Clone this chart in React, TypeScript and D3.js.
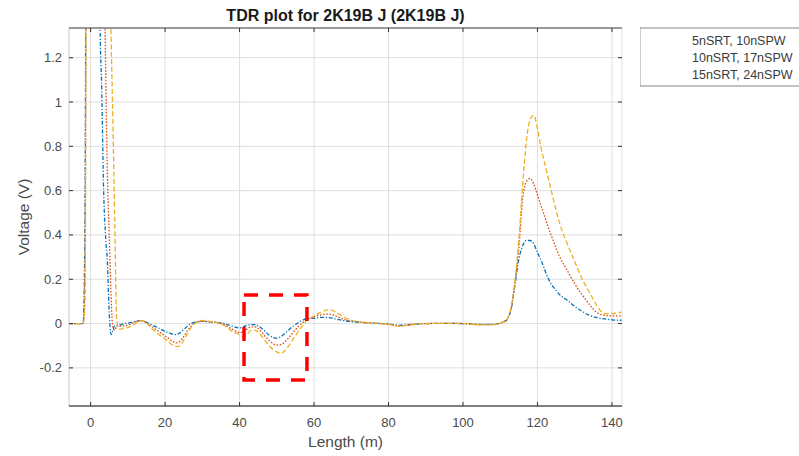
import React from "react";
import * as d3 from "d3";

const lengths = [-6, -2, -1.5, -1, -0.5, 0, 1, 2, 2.5, 3, 3.5, 4, 4.5, 5, 5.5, 6, 6.5, 7, 7.5, 8, 9, 10, 11, 12, 13, 14, 15, 16, 17, 18, 19, 20, 21, 22, 23, 24, 25, 26, 27, 28, 30, 32, 34, 36, 38, 40, 41, 42, 43, 44, 45, 46, 47, 48, 49, 50, 51, 52, 53, 54, 55, 56, 57, 58, 60, 62, 64, 66, 68, 70, 72, 75, 78, 80, 83, 86, 90, 95, 100, 105, 108, 110, 111, 112, 113, 114, 115, 116, 117, 118, 119, 120, 121, 122, 123, 124, 125, 126, 128, 130, 132, 134, 136, 138, 140, 142, 143];

const seriesBlue = [0, 0, 0.5, 3, 3, 3, 3, 3, 1.4, 1.05, 0.6, 0.4, 0.28, 0.05, -0.05, -0.03, -0.01, -0.01, -0.005, -0.005, 0, 0.002, 0.005, 0.01, 0.013, 0.012, 0.005, -0.003, -0.01, -0.018, -0.027, -0.035, -0.042, -0.048, -0.05, -0.042, -0.027, -0.012, 0, 0.007, 0.01, 0.008, 0.005, 0, -0.012, -0.02, -0.015, -0.008, -0.005, -0.005, -0.01, -0.022, -0.038, -0.053, -0.063, -0.066, -0.06, -0.047, -0.032, -0.017, -0.005, 0.007, 0.016, 0.022, 0.024, 0.028, 0.027, 0.02, 0.013, 0.009, 0.006, 0.003, 0, -0.002, -0.008, -0.004, 0, 0.001, 0, -0.004, -0.004, 0.002, 0.008, 0.022, 0.07, 0.18, 0.29, 0.35, 0.375, 0.375, 0.36, 0.32, 0.285, 0.24, 0.2, 0.17, 0.15, 0.13, 0.105, 0.078, 0.055, 0.037, 0.027, 0.021, 0.017, 0.015, 0.015];

const seriesOrange = [0, 0, 0.3, 3, 3, 3, 3, 3, 3, 2.4, 1.8, 1.2, 0.68, 0.4, 0.12, -0.02, -0.03, -0.01, -0.01, -0.012, -0.01, -0.008, 0, 0.008, 0.013, 0.012, 0.003, -0.01, -0.02, -0.032, -0.044, -0.056, -0.068, -0.08, -0.087, -0.08, -0.058, -0.032, -0.012, 0.004, 0.01, 0.008, 0.004, -0.005, -0.025, -0.04, -0.04, -0.025, -0.015, -0.015, -0.022, -0.04, -0.06, -0.077, -0.09, -0.097, -0.095, -0.085, -0.068, -0.048, -0.028, -0.01, 0.005, 0.018, 0.03, 0.04, 0.043, 0.033, 0.02, 0.012, 0.007, 0.003, 0, -0.003, -0.01, -0.005, 0, 0.001, 0, -0.005, -0.005, 0.003, 0.009, 0.024, 0.075, 0.19, 0.34, 0.56, 0.64, 0.655, 0.63, 0.58, 0.53, 0.48, 0.43, 0.385, 0.34, 0.3, 0.24, 0.18, 0.13, 0.085, 0.05, 0.037, 0.035, 0.035, 0.036];

const seriesYellow = [0, 0, 0.1, 2.5, 3, 3, 3, 3, 3, 3, 3, 2.6, 2.2, 1.8, 1.3, 0.9, 0.45, 0.02, -0.02, -0.025, -0.02, -0.018, -0.01, 0, 0.012, 0.013, 0.003, -0.015, -0.03, -0.045, -0.058, -0.07, -0.083, -0.096, -0.104, -0.1, -0.075, -0.045, -0.018, 0, 0.014, 0.01, 0.004, -0.01, -0.035, -0.05, -0.058, -0.048, -0.032, -0.03, -0.038, -0.058, -0.08, -0.1, -0.117, -0.128, -0.134, -0.125, -0.105, -0.08, -0.055, -0.03, -0.008, 0.012, 0.035, 0.052, 0.063, 0.05, 0.03, 0.015, 0.008, 0.003, 0, -0.004, -0.012, -0.006, 0, 0.001, 0, -0.006, -0.005, 0.003, 0.01, 0.025, 0.08, 0.2, 0.38, 0.62, 0.82, 0.92, 0.94, 0.88, 0.79, 0.72, 0.65, 0.58, 0.51, 0.45, 0.36, 0.28, 0.2, 0.14, 0.08, 0.045, 0.045, 0.05, 0.052];

const seriesNames = ["5nSRT, 10nSPW", "10nSRT, 17nSPW", "15nSRT, 24nSPW"];
const seriesColors = ["#0072BD", "#D95319", "#EDB120"];
const seriesDash = ["4,1.8,1.2,1.8", "1.6,1.6", "5,2.5"];

const xTicks = [0, 20, 40, 60, 80, 100, 120, 140];
const yTicks = [-0.2, 0, 0.2, 0.4, 0.6, 0.8, 1, 1.2];
const xDomain = [-5.8, 142.7];
const yDomain = [-0.372, 1.334];

// annotation box in data units: [x0, x1, y0, y1]
const highlightBox = [41.2, 58.1, 0.129, -0.255];

const titleText = "TDR plot for 2K19B J (2K19B J)";
const xLabel = "Length (m)";
const yLabel = "Voltage (V)";

export default function App() {
  const W = 799, H = 456;
  const L = 69, R = 622, T = 28, B = 406;
  const x = d3.scaleLinear().domain(xDomain).range([L, R]);
  const y = d3.scaleLinear().domain(yDomain).range([B, T]);
  const allSeries = [seriesBlue, seriesOrange, seriesYellow];
  const line = d3
    .line<number>()
    .x((_, i) => x(lengths[i]))
    .y((v) => y(v))
    .curve(d3.curveMonotoneX);
  const font = "'Liberation Sans', Arial, Helvetica, sans-serif";
  const tickColor = "#4a4a4a";

  return (
    <svg
      width={W}
      height={H}
      style={{ position: "absolute", left: 0, top: 0, background: "#fff" }}
      fontFamily={font}
    >
      <defs>
        <clipPath id="plotClip">
          <rect x={L} y={T} width={R - L} height={B - T} />
        </clipPath>
      </defs>
      <rect x={0} y={0} width={W} height={H} fill="#fff" />
      {/* grid */}
      {xTicks.map((t) => (
        <line key={"gx" + t} x1={x(t)} x2={x(t)} y1={T} y2={B} stroke="#dedede" strokeWidth={1} />
      ))}
      {yTicks.map((t) => (
        <line key={"gy" + t} x1={L} x2={R} y1={y(t)} y2={y(t)} stroke="#dedede" strokeWidth={1} />
      ))}
      {/* series */}
      <g clipPath="url(#plotClip)">
        {allSeries.map((s, i) => (
          <path
            key={"s" + i}
            d={line(s) || ""}
            fill="none"
            stroke={seriesColors[i]}
            strokeWidth={1.3}
            strokeDasharray={seriesDash[i]}
          />
        ))}
      </g>
      {/* axes frame */}
      <line x1={L} x2={L} y1={T} y2={B} stroke="#c8c8c8" strokeWidth={1} />
      <line x1={R} x2={R} y1={T} y2={B} stroke="#e0e0e0" strokeWidth={1} />
      <line x1={L} x2={R} y1={T} y2={T} stroke="#777" strokeWidth={1.4} />
      <line x1={L} x2={R} y1={B} y2={B} stroke="#555" strokeWidth={1.4} />
      {/* ticks */}
      {xTicks.map((t) => (
        <g key={"tx" + t}>
          <line x1={x(t)} x2={x(t)} y1={B} y2={B - 4} stroke="#333" strokeWidth={1} />
          <line x1={x(t)} x2={x(t)} y1={T} y2={T + 4} stroke="#333" strokeWidth={1} />
          <text x={x(t)} y={426.5} textAnchor="middle" fontSize={13} fill={tickColor}>
            {t}
          </text>
        </g>
      ))}
      {yTicks.map((t) => (
        <g key={"ty" + t}>
          <line x1={L} x2={L + 4} y1={y(t)} y2={y(t)} stroke="#333" strokeWidth={1} />
          <line x1={R} x2={R - 4} y1={y(t)} y2={y(t)} stroke="#333" strokeWidth={1} />
          <text x={62} y={y(t) + 4.5} textAnchor="end" fontSize={13} fill={tickColor}>
            {t}
          </text>
        </g>
      ))}
      {/* labels */}
      <text x={(L + R) / 2} y={21} textAnchor="middle" fontSize={16} fontWeight="bold" fill="#1a1a1a">
        {titleText}
      </text>
      <text x={(L + R) / 2} y={447} textAnchor="middle" fontSize={15.5} fill={tickColor}>
        {xLabel}
      </text>
      <text
        transform={`translate(29, ${(T + B) / 2}) rotate(-90)`}
        textAnchor="middle"
        fontSize={15.5}
        fill={tickColor}
      >
        {yLabel}
      </text>
      {/* highlight box */}
      <rect
        x={x(highlightBox[0])}
        y={y(highlightBox[2])}
        width={x(highlightBox[1]) - x(highlightBox[0])}
        height={y(highlightBox[3]) - y(highlightBox[2])}
        fill="none"
        stroke="#ff0000"
        strokeWidth={3.5}
        strokeDasharray="14,11"
      />
      {/* legend */}
      <rect x={640.5} y={28} width={200} height={58} fill="#fff" />
      <line x1={640.5} x2={640.5} y1={28} y2={86} stroke="#ccc" strokeWidth={1} />
      <line x1={640} x2={W} y1={28} y2={28} stroke="#888" strokeWidth={1.2} />
      <line x1={640} x2={W} y1={86} y2={86} stroke="#888" strokeWidth={1.2} />
      {seriesNames.map((n, i) => (
        <text key={"lg" + i} x={692} y={44.5 + i * 17.3} fontSize={12.5} fill="#3a3a3a">
          {n}
        </text>
      ))}
    </svg>
  );
}
